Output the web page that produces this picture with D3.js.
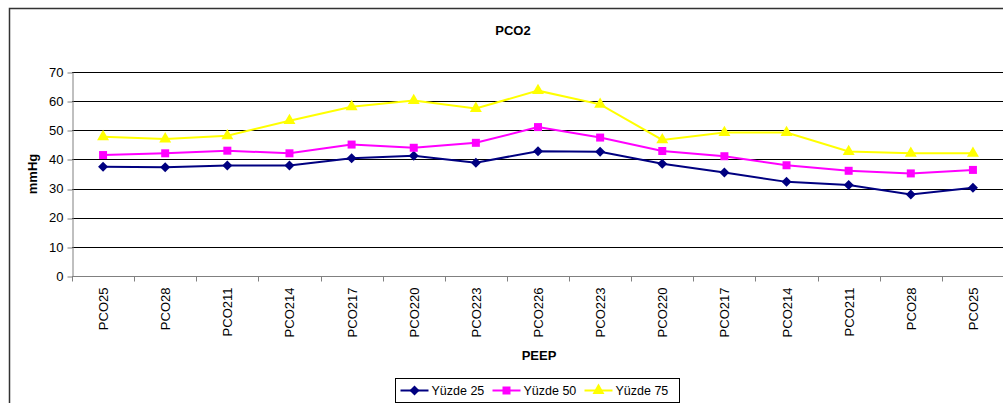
<!DOCTYPE html>
<html>
<head>
<meta charset="utf-8">
<script src="https://cdn.jsdelivr.net/npm/d3@7"></script>
<style>
  body { margin: 0; background: #fff; }
  text { font-family: "Liberation Sans", Arial, sans-serif; }
</style>
</head>
<body>
<div id="chart"></div>
<script>
const categories = ["PCO25", "PCO28", "PCO211", "PCO214", "PCO217", "PCO220", "PCO223", "PCO226",
    "PCO223", "PCO220", "PCO217", "PCO214", "PCO211", "PCO28", "PCO25"];
const yuzde25 = [37.5, 37.3, 37.9, 37.9, 40.4, 41.3, 38.9, 42.8, 42.6, 38.5, 35.5, 32.3, 31.2, 28.0, 30.3];
const yuzde50 = [41.5, 42.1, 43.0, 42.1, 45.1, 44.0, 45.7, 51.1, 47.5, 42.9, 41.1, 38.0, 36.1, 35.2, 36.4];
const yuzde75 = [47.8, 47.0, 48.1, 53.3, 58.1, 60.2, 57.5, 63.6, 58.9, 46.7, 49.2, 49.2, 42.7, 42.1, 42.1];
const yTicks = [0, 10, 20, 30, 40, 50, 60, 70];

const series = [
    { name: "Yüzde 25", values: yuzde25, color: "#000080", symbol: "diamond" },
    { name: "Yüzde 50", values: yuzde50, color: "#FF00FF", symbol: "square" },
    { name: "Yüzde 75", values: yuzde75, color: "#FFFF00", symbol: "triangle" }
];

const width = 1003, height = 403;
const margin = { top: 72, left: 72, right: -1, bottom: 127 };

const svg = d3.select("#chart").append("svg")
    .attr("width", width)
    .attr("height", height);

// outer chart border
svg.append("rect")
    .attr("x", 9.5).attr("y", 8.5)
    .attr("width", 1010).attr("height", 420)
    .attr("fill", "none")
    .attr("stroke", "#333")
    .attr("stroke-width", 1.5);

const x = d3.scaleBand()
    .domain(d3.range(categories.length))
    .range([margin.left, width - margin.right]);

const y = d3.scaleLinear()
    .domain([0, 70])
    .range([height - margin.bottom, margin.top]);

// gridlines
svg.append("g")
    .selectAll("line")
    .data(yTicks.filter(d => d > 0))
    .enter()
    .append("line")
    .attr("x1", margin.left)
    .attr("x2", width - margin.right)
    .attr("y1", d => Math.round(y(d)) + 0.5)
    .attr("y2", d => Math.round(y(d)) + 0.5)
    .attr("stroke", "#000")
    .attr("stroke-width", 1);

// y axis
const yAxis = svg.append("g")
    .attr("transform", `translate(${margin.left + 0.5},0)`)
    .call(d3.axisLeft(y).tickValues(yTicks).tickSize(5).tickSizeOuter(0).tickPadding(4));
yAxis.select(".domain").attr("stroke", "#808080");
yAxis.selectAll(".tick line").attr("stroke", "#808080")
    .attr("transform", d => `translate(0,${Math.round(y(d)) + 0.5 - y(d)})`);
yAxis.selectAll(".tick text")
    .style("font-size", "13px")
    .attr("fill", "#000");

// x axis
const xAxisG = svg.append("g")
    .attr("transform", `translate(0,${Math.round(y(0)) + 0.5})`);
xAxisG.append("line")
    .attr("x1", margin.left).attr("x2", width - margin.right)
    .attr("stroke", "#808080");
xAxisG.selectAll(".xtick")
    .data(d3.range(categories.length + 1))
    .enter()
    .append("line")
    .attr("x1", d => Math.round(margin.left + d * x.step()) + 0.5)
    .attr("x2", d => Math.round(margin.left + d * x.step()) + 0.5)
    .attr("y1", 0).attr("y2", 5)
    .attr("stroke", "#808080");
xAxisG.selectAll(".xlabel")
    .data(categories)
    .enter()
    .append("text")
    .attr("transform", (d, i) => `translate(${x(i) + x.bandwidth() / 2 + 5},11) rotate(-90)`)
    .attr("text-anchor", "end")
    .style("font-size", "13px")
    .text(d => d);

// lines and markers
const line = d3.line()
    .x((d, i) => x(i) + x.bandwidth() / 2)
    .y(d => y(d));

// square turned 45 degrees, like the spreadsheet diamond marker
const squareDiamond = {
    draw(context, size) {
        const r = Math.sqrt(size / 2);
        context.moveTo(0, -r);
        context.lineTo(r, 0);
        context.lineTo(0, r);
        context.lineTo(-r, 0);
        context.closePath();
    }
};

const symbolType = {
    diamond: squareDiamond,
    square: d3.symbolSquare,
    triangle: d3.symbolTriangle
};
const symbolSize = { diamond: 50, square: 64, triangle: 62 };

series.forEach(s => {
    svg.append("path")
        .datum(s.values)
        .attr("fill", "none")
        .attr("stroke", s.color)
        .attr("stroke-width", 2)
        .attr("d", line);
    svg.append("g")
        .selectAll("path")
        .data(s.values)
        .enter()
        .append("path")
        .attr("transform", (d, i) => `translate(${x(i) + x.bandwidth() / 2},${y(d)})`)
        .attr("d", d3.symbol().type(symbolType[s.symbol]).size(symbolSize[s.symbol]))
        .attr("fill", s.color);
});

// title and axis titles
svg.append("text")
    .attr("x", 513).attr("y", 35)
    .attr("text-anchor", "middle")
    .style("font-size", "13px")
    .style("font-weight", "bold")
    .text("PCO2");

svg.append("text")
    .attr("transform", `translate(37,${(y(0) + y(70)) / 2}) rotate(-90)`)
    .attr("text-anchor", "middle")
    .style("font-size", "13px")
    .style("font-weight", "bold")
    .text("mmHg");

svg.append("text")
    .attr("x", 539).attr("y", 360)
    .attr("text-anchor", "middle")
    .style("font-size", "13px")
    .style("font-weight", "bold")
    .text("PEEP");

// legend
const legend = svg.append("g").attr("transform", "translate(395.5,378.5)");
legend.append("rect")
    .attr("width", 284).attr("height", 24)
    .attr("fill", "#fff")
    .attr("stroke", "#000");

const legendX = [5, 97, 189];
series.forEach((s, i) => {
    const g = legend.append("g").attr("transform", `translate(${legendX[i]},12)`);
    g.append("line")
        .attr("x1", 0).attr("x2", 28)
        .attr("stroke", s.color)
        .attr("stroke-width", 2);
    g.append("path")
        .attr("transform", "translate(14,0)")
        .attr("d", d3.symbol().type(symbolType[s.symbol]).size(symbolSize[s.symbol]))
        .attr("fill", s.color);
    g.append("text")
        .attr("x", 31).attr("y", 4.5)
        .style("font-size", "12.5px")
        .text(s.name);
});
</script>
</body>
</html>
